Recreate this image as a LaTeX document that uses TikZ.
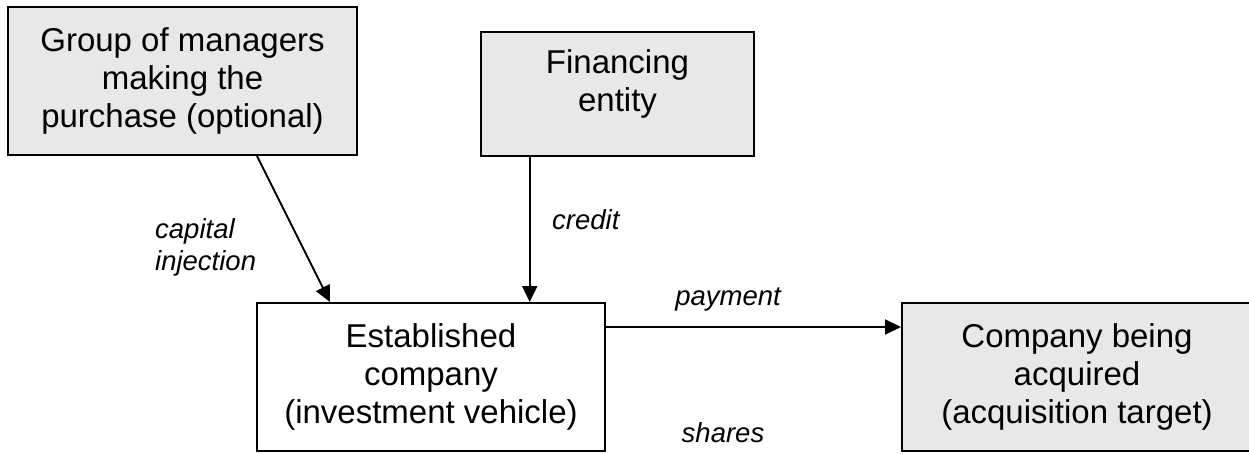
\documentclass[tikz,border=0pt]{standalone}
\usepackage{fontspec}
\setmainfont{Liberation Sans}
\usetikzlibrary{arrows.meta,calc}
\definecolor{boxgray}{RGB}{232,232,232}
\begin{document}
\begin{tikzpicture}[x=1pt,y=-1pt,
  box/.style={draw=black,line width=2pt,rectangle,inner sep=0pt,align=center,
    font=\fontsize{33}{38}\selectfont},
  grey/.style={box,fill=boxgray},
  boxtext/.style={inner sep=0pt,align=center,font=\fontsize{33}{38}\selectfont},
  flowlabel/.style={inner sep=0pt,align=left,font=\fontsize{27.5}{32}\selectfont\itshape},
  flow/.style={draw=black,line width=2pt,-{Triangle[length=16pt,width=15pt]}}]
\useasboundingbox (0,0) rectangle (1249,453);
\clip (0,0) rectangle (1249,453);

% the four parties
\node[grey,minimum width=349pt,minimum height=148pt] (mgr) at (182.5,81)
  {Group of managers\\making the\\purchase (optional)};
\node[grey,minimum width=273pt,minimum height=124pt] (fin) at (617.5,94) {};
\node[boxtext] (fintext) at ($(fin.center)+(0,-10.5)$) {Financing\\entity};
\node[box,fill=white,minimum width=348pt,minimum height=148pt] (veh) at (431,377)
  {Established\\company\\(investment vehicle)};
\node[grey,minimum width=350pt,minimum height=148pt] (tgt) at (1077,377)
  {Company being\\acquired\\(acquisition target)};

% flows between them
\coordinate (capfrom) at ($(mgr.south west)+(250,0)$);
\coordinate (capto) at ($(veh.north west)+(74,0)$);
\draw[flow] (capfrom) -- (capto);

\coordinate (credfrom) at ($(fin.south west)+(49.7,0)$);
\draw[flow] (credfrom) -- (credfrom |- veh.north);

\coordinate (payfrom) at ($(veh.north east)+(0,25)$);
\draw[flow] (payfrom) -- (payfrom -| tgt.west);

% flow labels
\node[flowlabel,anchor=north west] (caplbl) at (155,218) {capital\\injection};
\node[flowlabel,anchor=base west] (credlbl) at (552,229) {credit};
\node[flowlabel,anchor=base] (paylbl) at (728,305) {payment};
\node[flowlabel,anchor=base] (sharelbl) at (723,442) {shares};
\end{tikzpicture}
\end{document}
